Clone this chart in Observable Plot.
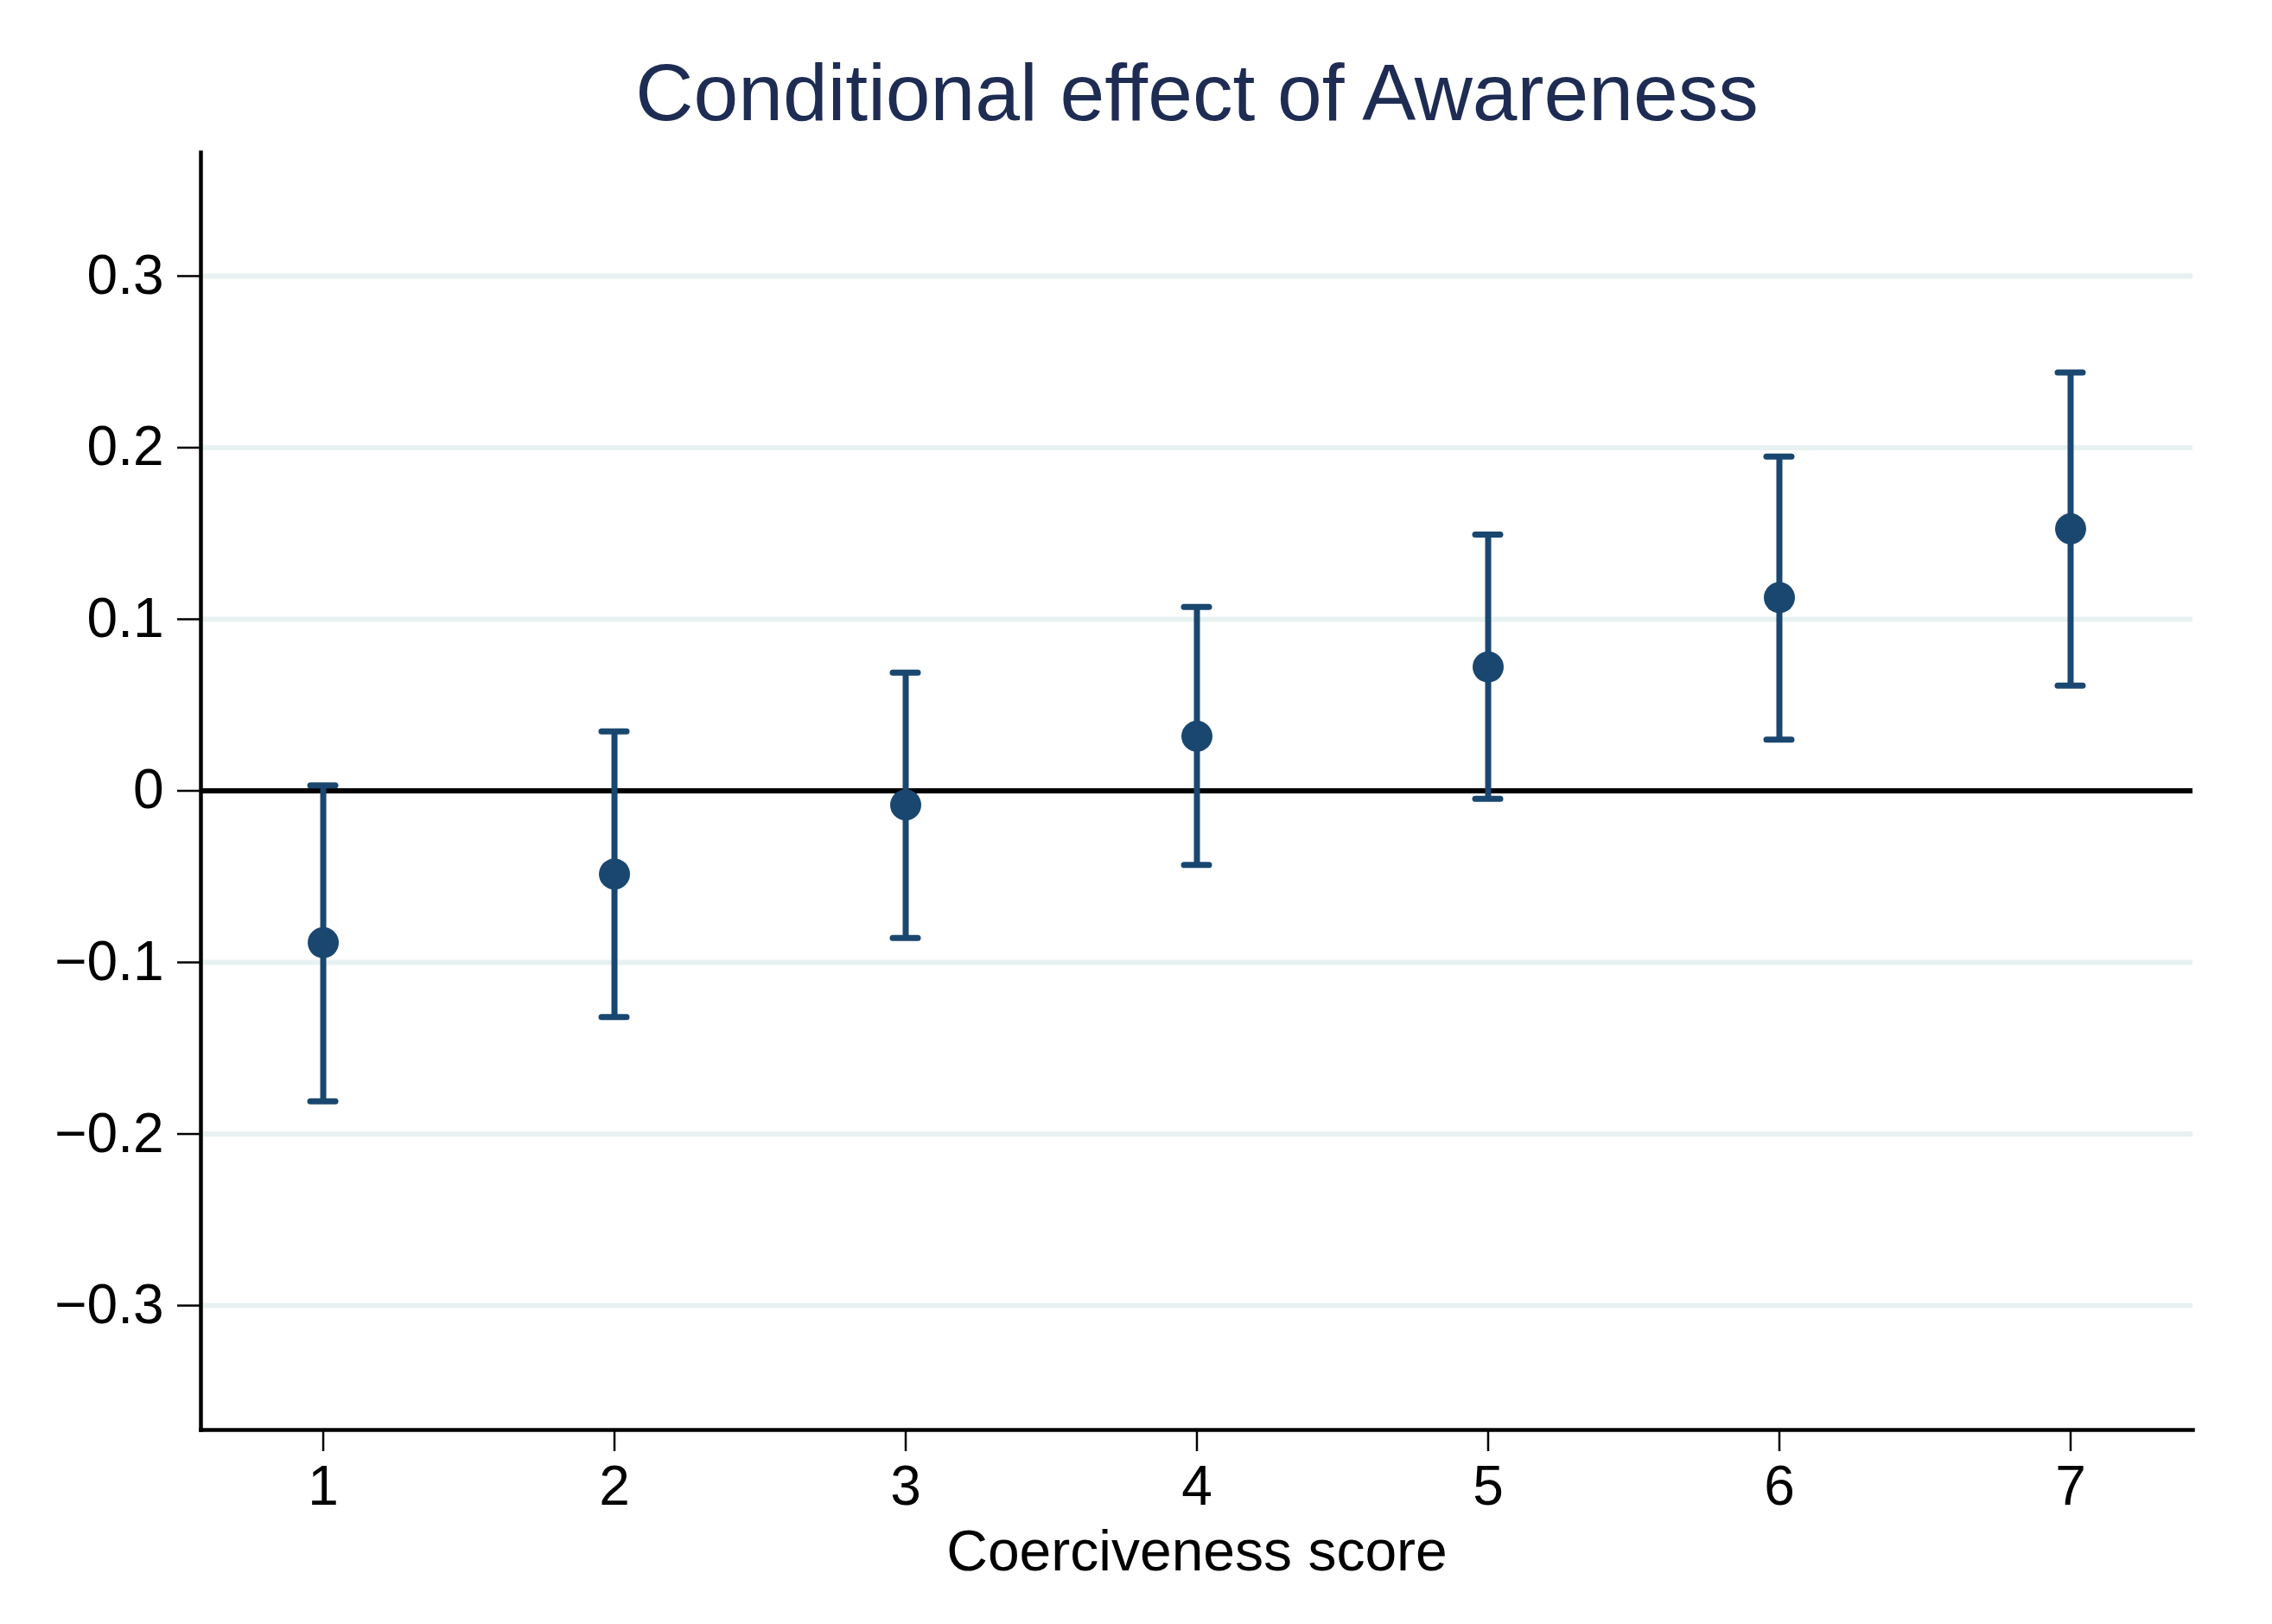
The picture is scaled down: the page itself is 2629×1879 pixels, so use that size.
<!DOCTYPE html>
<html>
<head>
<meta charset="utf-8">
<script src="https://cdn.jsdelivr.net/npm/d3@7"></script>
<script src="https://cdn.jsdelivr.net/npm/@observablehq/plot@0.6"></script>
<style>
  html, body { margin: 0; padding: 0; background: #ffffff; }
  #chart svg { display: block; }
</style>
</head>
<body>
<div id="chart"></div>
<script>
// ---- data ----
const coerciveness = [1, 2, 3, 4, 5, 6, 7];
const effect      = [-0.0885, -0.0485, -0.0082, 0.0318, 0.0722, 0.1126, 0.1527];
const ciLower     = [-0.1810, -0.1318, -0.0858, -0.0432, -0.0046, 0.0298, 0.0613];
const ciUpper     = [ 0.0032,  0.0346,  0.0689,  0.1072,  0.1493, 0.1948, 0.2438];
const yTicks = [-0.3, -0.2, -0.1, 0, 0.1, 0.2, 0.3];
const yDomain = [-0.3725, 0.372];
const titleText = ["Conditional effect of Awareness"];
const xTitleText = ["Coerciveness score"];

const rows = coerciveness.map((k, i) => ({k, est: effect[i], lo: ciLower[i], hi: ciUpper[i]}));

const navy = "#1a476f";
const font = "Liberation Sans, Arial, Helvetica, sans-serif";
const fmt = (d) => d === 0 ? "0" : d3.format(".1f")(d).replace("-", "\u2212");

const chart = Plot.plot({
  width: 2629,
  height: 1879,
  marginLeft: 232,
  marginRight: 92,
  marginTop: 176,
  marginBottom: 225,
  style: {fontFamily: font, color: "#000", background: "#fff", overflow: "visible"},
  x: {type: "band", domain: coerciveness, paddingInner: 0.914, paddingOuter: 0.377, round: false, label: null},
  y: {domain: yDomain, label: null},
  marks: [
    Plot.gridY(yTicks, {stroke: "#e8f1f2", strokeOpacity: 1, strokeWidth: 6}),
    Plot.ruleY([0], {stroke: "#000", strokeWidth: 6}),
    Plot.ruleX(rows, {x: "k", y1: "lo", y2: "hi", stroke: navy, strokeWidth: 7}),
    Plot.tickY(rows, {x: "k", y: "hi", stroke: navy, strokeWidth: 7, strokeLinecap: "round"}),
    Plot.tickY(rows, {x: "k", y: "lo", stroke: navy, strokeWidth: 7, strokeLinecap: "round"}),
    Plot.dot(rows, {x: "k", y: "est", r: 18, fill: navy, stroke: null}),
    Plot.axisY({ticks: yTicks, tickFormat: fmt, tickSize: 27, tickPadding: 16, fontSize: 64, strokeWidth: 2.5, label: null}),
    Plot.axisX({ticks: coerciveness, tickSize: 25, tickPadding: 16, fontSize: 64, strokeWidth: 2.5, label: null}),
    Plot.frame({anchor: "left", stroke: "#000", strokeWidth: 4.5, strokeLinecap: "square"}),
    Plot.frame({anchor: "bottom", stroke: "#000", strokeWidth: 4.5, strokeLinecap: "square"}),
    Plot.text(titleText, {frameAnchor: "top", dy: -38, lineAnchor: "bottom", fontSize: 93, fill: "#1e2c53", fontFamily: font}),
    Plot.text(xTitleText, {frameAnchor: "bottom", dy: 162, lineAnchor: "bottom", fontSize: 66, fill: "#000", fontFamily: font})
  ]
});
document.getElementById("chart").appendChild(chart);
</script>
</body>
</html>
